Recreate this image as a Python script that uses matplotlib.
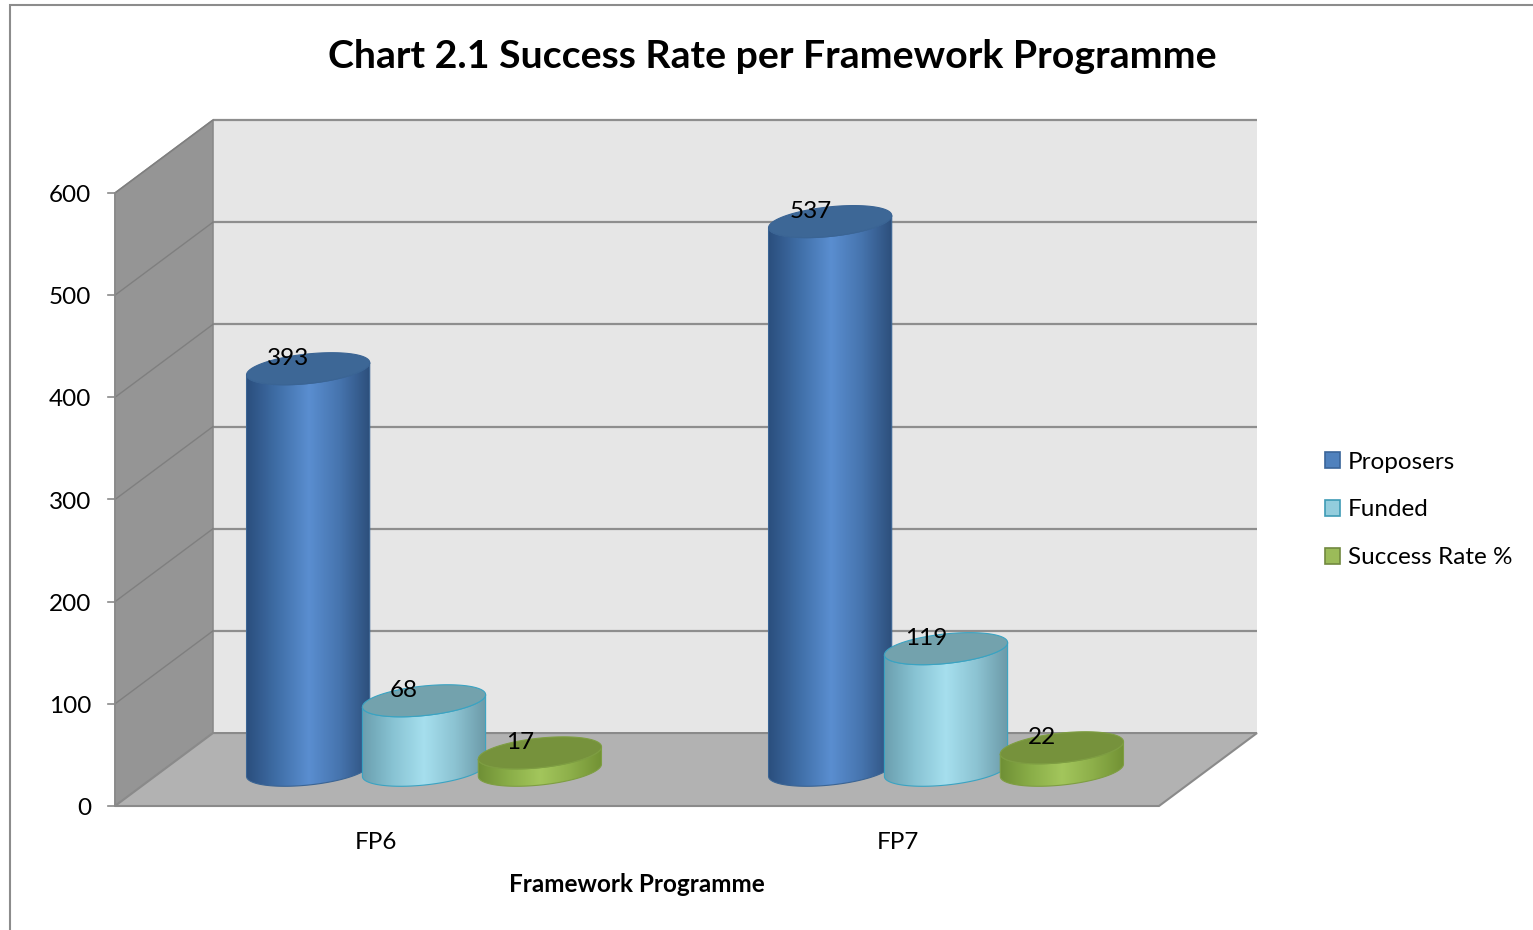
"""
Chart 2.1 - Success Rate per Framework Programme (3D cylinder look)
"""

import numpy as np
import matplotlib
matplotlib.use('Agg')
import matplotlib.pyplot as plt
from matplotlib.patches import Polygon, PathPatch, Rectangle, Patch
from matplotlib.path import Path
from matplotlib.colors import LinearSegmentedColormap

plt.rcParams['font.family'] = ['Lato', 'DejaVu Sans']

# Data
categories = ['FP6', 'FP7']
series = ['Proposers', 'Funded', 'Success Rate %']
proposers = [393, 537]
funded = [68, 119]
success_rate = [17, 22]
y_ticks = [0, 100, 200, 300, 400, 500, 600]

# Geometry: x in category units, y in value units, depth 0 (front) .. 1 (back)
DEPTH_X = 0.1877
DEPTH_Y = 71.4
BAR_DEPTH = 0.49
BAR_STEP = 0.222
BAR_HALF = 0.118
ELL_B = 14.5
SHEAR = 6.0
FS = 17.5
TXT_DY = -2.5   # Lato sits a bit high when centred

side_colors = [
    ['#2B4F7E', '#406FA8', '#5A8ED0', '#4674AE', '#2C4E7A'],
    ['#6A9EAE', '#88C3D3', '#A6DFEE', '#8CC3D2', '#6C9AA8'],
    ['#6F8F35', '#8AAE48', '#A3C65C', '#8DAF4A', '#729234'],
]
top_colors = ['#3D6796', '#73A2AD', '#76923C']
edge_colors = ['#3A6494', '#3AA3C2', '#7E9E42']
legend_colors = ['#4F81BD', '#93CDDD', '#9BBB59']
legend_edges = ['#3A659A', '#3E9BB5', '#71893F']


def proj(x, v, d):
    """Front-plane point pushed back by depth d"""
    return (x + d * DEPTH_X, v + d * DEPTH_Y)


def ellipse(cx, cy, t):
    return cx + BAR_HALF * np.cos(t), cy + ELL_B * np.sin(t) + SHEAR * np.cos(t)


def draw_cylinder(ax, cx, base, value, k, z):
    top = base + value
    t_low = np.linspace(np.pi, 2 * np.pi, 80)
    bx, by = ellipse(cx, base, t_low)
    tx, ty = ellipse(cx, top, t_low[::-1])
    verts = np.column_stack([np.concatenate([bx, tx]), np.concatenate([by, ty])])
    side = PathPatch(Path(np.vstack([verts, verts[:1]]), closed=True),
                     facecolor='none', edgecolor=edge_colors[k], linewidth=0.8,
                     transform=ax.transData, zorder=z + 0.1)
    ax.add_patch(side)

    cmap = LinearSegmentedColormap.from_list(f'c{k}', side_colors[k])
    grad = np.linspace(0, 1, 256).reshape(1, -1)
    im = ax.imshow(grad, cmap=cmap, aspect='auto', origin='lower',
                   interpolation='bilinear', zorder=z,
                   extent=[cx - BAR_HALF, cx + BAR_HALF,
                           base - ELL_B - SHEAR - 2, top + ELL_B + SHEAR + 2])
    im.set_clip_path(side)

    t_all = np.linspace(0, 2 * np.pi, 160)
    ex, ey = ellipse(cx, top, t_all)
    ax.add_patch(Polygon(np.column_stack([ex, ey]), closed=True,
                         facecolor=top_colors[k], edgecolor=edge_colors[k],
                         linewidth=0.8, zorder=z + 0.2))
    return top


fig = plt.figure(figsize=(15.33, 9.3), dpi=100)
ax = fig.add_axes([0, 0, 1, 1])

# Walls and floor
ymax = y_ticks[-1]
ncat = len(categories)
left_wall = [proj(0, 0, 0), proj(0, ymax, 0), proj(0, ymax, 1), proj(0, 0, 1)]
back_wall = [proj(0, 0, 1), proj(0, ymax, 1), proj(ncat, ymax, 1), proj(ncat, 0, 1)]
floor = [proj(0, 0, 0), proj(ncat, 0, 0), proj(ncat, 0, 1), proj(0, 0, 1)]
ax.add_patch(Polygon(back_wall, closed=True, facecolor='#E6E6E6', edgecolor='none', zorder=0))
ax.add_patch(Polygon(left_wall, closed=True, facecolor='#959595', edgecolor='#8A8A8A',
                     linewidth=1.2, zorder=0.5))
ax.add_patch(Polygon(floor, closed=True, facecolor='#B2B2B2', edgecolor='#8A8A8A',
                     linewidth=1.5, zorder=0.5))

# Gridlines
for v in y_ticks[1:]:
    x0, y0 = proj(0, v, 1)
    x1, y1 = proj(ncat, v, 1)
    ax.plot([x0, x1], [y0, y1], color='#8E8E8E', linewidth=1.6, zorder=0.3,
            solid_capstyle='butt')
    fx, fy = proj(0, v, 0)
    ax.plot([fx, x0], [fy, y0], color='#7F7F7F', linewidth=1.0, zorder=0.6)

# Front value axis with ticks
ax.plot([0, 0], [0, ymax], color='#8A8A8A', linewidth=1.2, zorder=0.7)
for v in y_ticks:
    ax.plot([-0.0134, 0], [v, v], color='#8A8A8A', linewidth=1.2, zorder=0.7)
    ax.text(-0.046, v + TXT_DY, str(v), ha='right', va='center', fontsize=FS)

# Cylinders
all_series = [proposers, funded, success_rate]
base_x, base_v = proj(0, 0, BAR_DEPTH)
z = 2
for i, cat in enumerate(categories):
    center = i + 0.5 + base_x
    for k, values in enumerate(all_series):
        cx = center + (k - 1) * BAR_STEP
        top = draw_cylinder(ax, cx, base_v, values[i], k, z)
        ax.text(cx - 0.038, top + 12.7 + TXT_DY, str(values[i]), ha='center',
                va='center', fontsize=FS, zorder=20)
        z += 1
    ax.text(i + 0.5, -33.3 + TXT_DY, cat, ha='center', va='center', fontsize=FS)

ax.text(ncat / 2, -74.4 + TXT_DY, 'Framework Programme', ha='center', va='center',
        fontsize=FS, fontweight='bold')

fig.text(0.504, 1 - 56 / 930, 'Chart 2.1 Success Rate per Framework Programme',
         ha='center', va='center', fontsize=28.3, fontweight='bold')

handles = [Patch(facecolor=c, edgecolor=e, linewidth=1.2)
           for c, e in zip(legend_colors, legend_edges)]
ax.legend(handles, series, loc='center left', bbox_to_anchor=(1325 / 1533, 1 - 510 / 930),
          bbox_transform=fig.transFigure, frameon=False, fontsize=FS,
          handlelength=0.62, handleheight=0.62, handletextpad=0.33,
          labelspacing=1.1, borderpad=0, borderaxespad=0)

# Outer chart border (left and top visible)
fig.patches.append(Rectangle((10 / 1533, -0.1), 1.2, 1.1 - 5 / 930, fill=False,
                             edgecolor='#8C8C8C', linewidth=1.5,
                             transform=fig.transFigure, figure=fig))

ax.set_xlim(-115 / 522, (1533 - 115) / 522)
ax.set_ylim((806 - 930) / 1.0217, 806 / 1.0217)
ax.axis('off')

plt.savefig('out.png', dpi=100)
plt.close()
